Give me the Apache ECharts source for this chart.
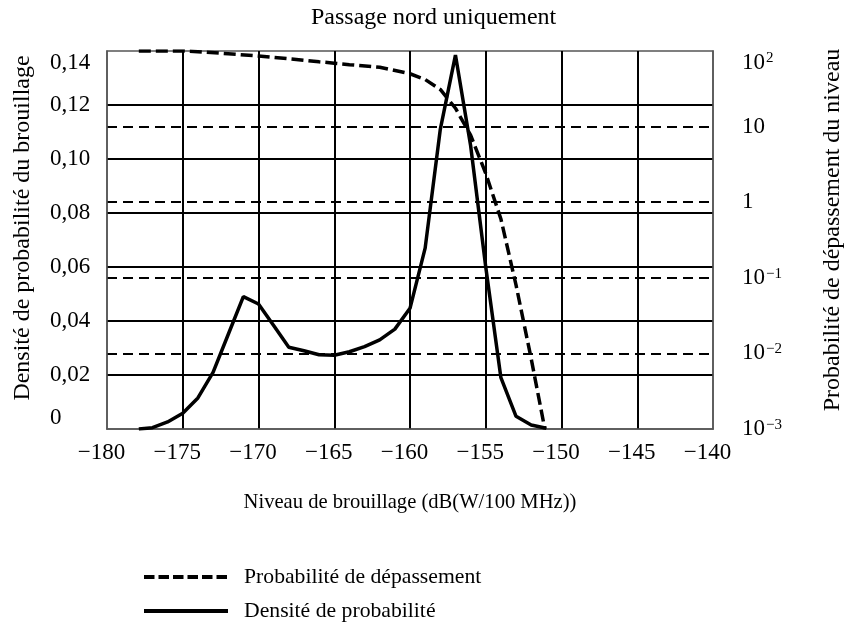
<!DOCTYPE html>
<html>
<head>
<meta charset="utf-8">
<script src="https://cdn.jsdelivr.net/npm/echarts@6/dist/echarts.min.js"></script>
<style>html,body{margin:0;padding:0;background:#fff}#c{width:854px;height:629px}</style>
</head>
<body>
<div id="c"></div>
<script>
// Niveau de brouillage (dB(W/100 MHz))
const densityX = [-177.9, -177, -176, -175, -174, -173, -172, -171, -170, -169, -168, -167, -166, -165, -164, -163, -162, -161, -160, -159, -158, -157, -156, -155, -154, -153, -152, -151];
const densityY = [0, 0.0005, 0.0026, 0.0058, 0.0115, 0.021, 0.035, 0.049, 0.0463, 0.0383, 0.0303, 0.029, 0.0275, 0.0273, 0.0286, 0.0305, 0.033, 0.037, 0.0447, 0.067, 0.111, 0.1385, 0.105, 0.06, 0.019, 0.0047, 0.0015, 0.0003];
const exceedX = [-177.9, -175, -174, -172, -170, -168, -166, -165, -164, -162, -160, -159, -158, -157, -156, -155, -154, -153, -152, -151.1];
const exceedY = [100, 100, 98, 92, 86, 79, 72, 69, 66, 61, 50, 42, 31, 17.5, 7.7, 2.4, 0.6, 0.08, 0.0085, 0.001];
const xTicks = { min: -180, max: -140, interval: 5 };
const leftTicks = { min: 0, max: 0.14, interval: 0.02 };
const rightTicks = { min: 0.001, max: 100 };

const title = 'Passage nord uniquement';
const xName = 'Niveau de brouillage (dB(W/100 MHz))';
const leftName = 'Densité de probabilité du brouillage';
const rightName = 'Probabilité de dépassement du niveau';
const nameExceed = 'Probabilité de dépassement';
const nameDensity = 'Densité de probabilité';

const FONT = "'Liberation Serif', 'Times New Roman', serif";
const TICK_FS = 23;

const legendBase = {
  orient: 'horizontal', left: 142, padding: 0,
  itemWidth: 84, itemHeight: 14,
  itemStyle: { color: 'rgba(0,0,0,0)', borderColor: 'rgba(0,0,0,0)', borderWidth: 0 },
  textStyle: { fontFamily: FONT, fontSize: 21.7, color: '#000', padding: [0, 0, 0, 11] }
};

const chart = echarts.init(document.getElementById('c'), null, { renderer: 'canvas' });
chart.setOption({
  animation: false,
  backgroundColor: '#fff',
  textStyle: { fontFamily: FONT, color: '#000' },
  title: {
    text: title, left: 311, top: 6, padding: 0,
    textStyle: { fontFamily: FONT, fontSize: 24, fontWeight: 'normal', color: '#000' }
  },
  grid: { left: 107, right: 141, top: 51, bottom: 200, show: true, borderColor: '#555', borderWidth: 1.5, containLabel: false },
  legend: [
    Object.assign({}, legendBase, { top: 566, data: [nameExceed],
      lineStyle: { color: '#000', width: 4, type: [10.5, 4] } }),
    Object.assign({}, legendBase, { top: 600, data: [nameDensity],
      lineStyle: { color: '#000', width: 4, type: 'solid' } })
  ],
  xAxis: {
    type: 'value', min: xTicks.min, max: xTicks.max, interval: xTicks.interval,
    name: xName, nameLocation: 'middle', nameGap: 63,
    nameTextStyle: { fontFamily: FONT, fontSize: 20.6, color: '#000' },
    axisLine: { show: true, lineStyle: { color: '#555', width: 1.5 } },
    axisTick: { show: false },
    axisLabel: { fontFamily: FONT, fontSize: TICK_FS, color: '#000', margin: 12, padding: [0, 11, 0, 0],
      formatter: v => (v < 0 ? '\u2212' + Math.abs(v) : String(v)) },
    splitLine: { show: true, showMinLine: false, showMaxLine: false, lineStyle: { color: '#000', width: 2 } }
  },
  yAxis: [
    {
      type: 'value', position: 'left', min: leftTicks.min, max: leftTicks.max, interval: leftTicks.interval,
      name: leftName, nameLocation: 'middle', nameGap: 72, nameRotate: 90,
      nameTextStyle: { fontFamily: FONT, fontSize: 24, color: '#000', padding: [0, 0, 0, 24] },
      axisLine: { show: true, lineStyle: { color: '#555', width: 1.5 } },
      axisTick: { show: false },
      axisLabel: { fontFamily: FONT, fontSize: TICK_FS, color: '#000', margin: 57, align: 'left',
        verticalAlignMinLabel: 'bottom', verticalAlignMaxLabel: 'top',
        formatter: v => (v === 0 ? '0' : v.toFixed(2).replace('.', ',')) },
      splitLine: { show: true, showMinLine: false, showMaxLine: false, lineStyle: { color: '#000', width: 2 } }
    },
    {
      type: 'log', logBase: 10, position: 'right', min: rightTicks.min, max: rightTicks.max,
      name: rightName, nameLocation: 'middle', nameGap: 108, nameRotate: 90,
      nameTextStyle: { fontFamily: FONT, fontSize: 24, color: '#000', padding: [0, 0, 0, 20] },
      axisLine: { show: true, lineStyle: { color: '#555', width: 1.5 } },
      axisTick: { show: false },
      axisLabel: { fontFamily: FONT, fontSize: TICK_FS, color: '#000', margin: 29, align: 'left',
        verticalAlignMaxLabel: 'top',
        formatter: v => {
          const e = Math.round(Math.log10(v));
          if (e === 0) return '{b|1}';
          if (e === 1) return '{b|10}';
          return '{b|10}{s|' + (e < 0 ? '\u2212' + Math.abs(e) : String(e)) + '}';
        },
        rich: {
          b: { fontFamily: FONT, fontSize: TICK_FS, color: '#000' },
          s: { fontFamily: FONT, fontSize: 15, color: '#000', verticalAlign: 'top', padding: [0, 0, 8, 1] }
        }
      },
      splitLine: { show: true, showMinLine: false, showMaxLine: false, lineStyle: { color: '#000', width: 2, type: [10, 6] } }
    }
  ],
  series: [
    {
      name: nameExceed, type: 'line', yAxisIndex: 1, symbol: 'none', smooth: false,
      data: exceedX.map((x, i) => [x, exceedY[i]]),
      lineStyle: { color: '#000', width: 3.5, type: [12, 5] },
      itemStyle: { color: '#000' }, z: 3
    },
    {
      name: nameDensity, type: 'line', yAxisIndex: 0, symbol: 'none', smooth: false,
      data: densityX.map((x, i) => [x, densityY[i]]),
      lineStyle: { color: '#000', width: 3.5, type: 'solid' },
      itemStyle: { color: '#000' }, z: 4
    }
  ]
});
</script>
</body>
</html>
